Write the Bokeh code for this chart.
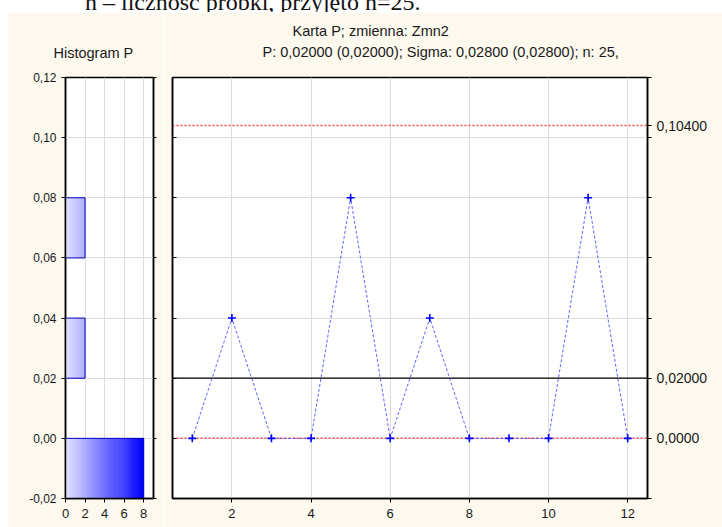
from bokeh.plotting import figure
from bokeh.layouts import row, column
from bokeh.models import Span, Title, FixedTicker, LinearAxis, Range1d, Div, Spacer
from bokeh.embed import file_html
from bokeh.resources import INLINE

# ---------------- data ----------------
samples = [1, 2, 3, 4, 5, 6, 7, 8, 9, 10, 11, 12]
p_values = [0.0, 0.04, 0.0, 0.0, 0.08, 0.0, 0.04, 0.0, 0.0, 0.0, 0.08, 0.0]
center_line = 0.02
ucl = 0.104
lcl = 0.0
hist_bin_low = [-0.02, 0.02, 0.06]
hist_bin_high = [0.00, 0.04, 0.08]
hist_counts = [8, 2, 2]
y_ticks = [-0.02, 0.0, 0.02, 0.04, 0.06, 0.08, 0.10, 0.12]
y_tick_labels = ["-0,02", "0,00", "0,02", "0,04", "0,06", "0,08", "0,10", "0,12"]
x_ticks = [2, 4, 6, 8, 10, 12]
hist_x_ticks = [0, 2, 4, 6, 8]
limit_values = [ucl, center_line, lcl]
limit_labels = ["0,10400", "0,02000", "0,0000"]
title_line1 = "Karta P; zmienna:  Zmn2"
title_line2 = "P: 0,02000 (0,02000); Sigma: 0,02800 (0,02800); n: 25,"
hist_title = "Histogram P"
caption = "n – liczność próbki, przyjęto n=25."

# ---------------- style ----------------
FONT = "Liberation Sans"
CREAM = "#fdf9ef"
GRID = "#dcdcdc"
TOP, FH, BOTTOM = 65, 421, 29
H = TOP + FH + BOTTOM   # 515 -> page 12..527


def style_axis(ax, size="12px"):
    ax.axis_line_color = "black"
    ax.axis_line_width = 1.5
    ax.major_tick_line_color = "black"
    ax.minor_tick_line_color = None
    ax.major_label_text_font = FONT
    ax.major_label_text_font_size = size
    ax.major_label_text_color = "#1a1a1a"


def title(text, offset, standoff):
    return Title(text=text, align="left", offset=offset, standoff=standoff,
                 text_font=FONT, text_font_size="14.5px", text_font_style="normal",
                 text_color="#1a1a1a")


# ---------------- histogram ----------------
h = figure(width=58 + 88 + 10, height=H, min_border_left=58, min_border_right=10,
           min_border_top=TOP, min_border_bottom=BOTTOM,
           x_range=Range1d(0, 9), y_range=Range1d(-0.02, 0.12),
           output_backend="svg", toolbar_location=None,
           border_fill_color=CREAM, background_fill_color="white",
           outline_line_color="black", outline_line_width=1.5)

max_count = max(hist_counts)
step = 0.1
sl, sr, sb, st, sc = [], [], [], [], []
for lo, hi, c in zip(hist_bin_low, hist_bin_high, hist_counts):
    n = int(round(c / step))
    for i in range(n):
        x0 = i * step
        x1 = min(c, (i + 1.6) * step)
        t = ((i + 0.5) * step) / max_count
        r = int(round(228 * (1 - t)))
        sl.append(x0); sr.append(x1); sb.append(lo); st.append(hi)
        sc.append(f"#{r:02x}{r:02x}ff")
h.quad(left=sl, right=sr, bottom=sb, top=st, fill_color=sc, line_color=None)
h.quad(left=0, right=hist_counts, bottom=hist_bin_low, top=hist_bin_high,
       fill_color=None, line_color="#0000c0", line_width=1)

h.xaxis.ticker = FixedTicker(ticks=hist_x_ticks)
h.yaxis.ticker = FixedTicker(ticks=y_ticks)
h.yaxis.major_label_overrides = dict(zip(y_ticks, y_tick_labels))
style_axis(h.yaxis[0], "12px")
style_axis(h.xaxis[0], "13px")
h.yaxis.major_tick_in = 0
h.yaxis.major_tick_out = 4
h.yaxis.major_label_standoff = 5
h.xaxis.major_tick_in = 0
h.xaxis.major_tick_out = 4
h.xaxis.major_label_standoff = 6
hr = LinearAxis(ticker=FixedTicker(ticks=y_ticks),
                major_label_overrides={t: "" for t in y_ticks})
style_axis(hr)
hr.major_tick_in = 0
hr.major_tick_out = 3
hr.major_label_standoff = 0
h.add_layout(hr, "right")
h.xgrid.ticker = FixedTicker(ticks=hist_x_ticks)
h.ygrid.ticker = FixedTicker(ticks=y_ticks)
h.grid.grid_line_color = GRID
h.add_layout(title(hist_title, -12, 34), "above")

# ---------------- control chart ----------------
m = figure(width=9 + 475 + 75, height=H, min_border_left=9, min_border_right=75,
           min_border_top=TOP, min_border_bottom=BOTTOM,
           x_range=Range1d(0.5, 12.5), y_range=Range1d(-0.02, 0.12),
           output_backend="svg", toolbar_location=None,
           border_fill_color=CREAM, background_fill_color="white",
           outline_line_color="black", outline_line_width=1.5)
m.xaxis.ticker = FixedTicker(ticks=x_ticks)
style_axis(m.xaxis[0], "13px")
m.xaxis.major_tick_in = 0
m.xaxis.major_tick_out = 4
m.xaxis.major_label_standoff = 6
m.yaxis.ticker = FixedTicker(ticks=y_ticks)
m.yaxis.major_label_overrides = {t: "" for t in y_ticks}
style_axis(m.yaxis[0])
m.yaxis.major_tick_in = 4
m.yaxis.major_tick_out = 0
m.yaxis.major_label_standoff = 0

r_ticks = y_ticks + [ucl]
r_over = {t: "" for t in y_ticks}
r_over.update(dict(zip(limit_values, limit_labels)))
ra = LinearAxis(ticker=FixedTicker(ticks=r_ticks), major_label_overrides=r_over)
style_axis(ra, "14px")
ra.major_tick_in = 0
ra.major_tick_out = 4
ra.major_label_standoff = 5
m.add_layout(ra, "right")

m.xgrid.ticker = FixedTicker(ticks=x_ticks)
m.ygrid.ticker = FixedTicker(ticks=y_ticks)
m.grid.grid_line_color = GRID

m.add_layout(Span(location=ucl, dimension="width", line_color="#ff4a4a",
                  line_dash="2 2", line_width=1.5, level="underlay"))
m.add_layout(Span(location=lcl, dimension="width", line_color="#ff4a4a",
                  line_dash="2 2", line_width=1.5, level="underlay"))
m.add_layout(Span(location=center_line, dimension="width", line_color="black",
                  line_width=1.3, level="underlay"))

m.line(samples, p_values, line_color="#4646ff", line_dash="3 2", line_width=1,
       line_alpha=0.85)
m.scatter(samples, p_values, marker="cross", size=8, line_color="#0000ff",
          line_width=1.6)

# title panels stack outward: line 2 (pushed up), then line 1 (pulled back down)
m.add_layout(title(title_line2, 90, 36), "above")
m.add_layout(title(title_line1, 120, -31), "above")

top = Div(text=(f'<div style="position:relative; left:85px; top:-10px; '
                f'font-family:\'Liberation Serif\'; font-size:24px; line-height:24px; '
                f'white-space:nowrap; color:#111;">{caption}</div>'),
          width=722, height=12, margin=(0, 0, 0, 0), styles={"overflow": "hidden"})

layout = column(top, row(Spacer(width=7, height=H), h, m, spacing=0), spacing=0)

open("out.html", "w").write(file_html(layout, INLINE))
